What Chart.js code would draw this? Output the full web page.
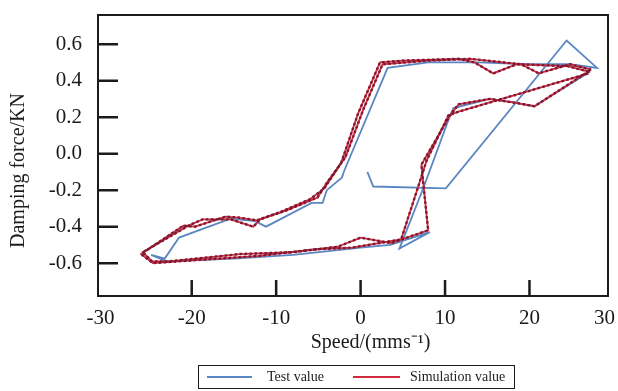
<!DOCTYPE html>
<html><head><meta charset="utf-8">
<script src="https://cdn.jsdelivr.net/npm/chart.js@4.4.1/dist/chart.umd.min.js"></script>
<style>
html,body{margin:0;padding:0;background:#fff;}
#wrap{position:relative;width:618px;height:391px;overflow:hidden;}
#legend{position:absolute;left:198px;top:365px;width:317px;height:24px;border:1.5px solid #1a1a1a;box-sizing:border-box;font-family:"Liberation Serif","Times New Roman",serif;font-size:14px;color:#222;}
.item{position:absolute;top:0;height:100%;display:flex;align-items:center;white-space:nowrap;}
.swatch{display:inline-block;height:2px;}
</style></head><body>
<div id="wrap"><canvas id="c" width="618" height="391"></canvas><div id="legend"></div></div>
<script>
// ---- data ----
const seriesLabels = ["Test value", "Simulation value"];

const testSpeed = [0.8, 1.5, 10.1, 24.4, 28.0, 24.8, 20, 14, 8, 3.2, -1.95, -2.2, -4.0, -4.5, -5.8, -11.2, -12.5, -15.4, -21.5, -23.2, -24.8, -23.0, -15, -8, -3, 0, 3.5, 8.2, 4.6, 7.5, 10.6, 11.0, 15.3, 18.2, 20.6, 27.2];
const testForce = [-0.10, -0.18, -0.19, 0.62, 0.47, 0.49, 0.49, 0.50, 0.50, 0.47, -0.095, -0.13, -0.20, -0.27, -0.27, -0.40, -0.37, -0.356, -0.46, -0.575, -0.555, -0.59, -0.575, -0.555, -0.53, -0.515, -0.50, -0.43, -0.52, -0.18, 0.21, 0.25, 0.30, 0.28, 0.26, 0.45];

const simCycle1Speed = [27.3, 24.8, 21.1, 19, 13, 8, 2.6, 0.3, -1.8, -4.0, -5.1, -8.7, -11.9, -12.7, -15.4, -18.7, -20.2, -25.8, -24.7, -22.6, -14.3, -8, -2.7, 0, 3.6, 8.0, 7.2, 10.6, 11.6, 15.3, 18.2, 20.6, 27.3];
const simCycle1Force = [0.46, 0.49, 0.44, 0.49, 0.52, 0.51, 0.49, 0.24, -0.02, -0.16, -0.24, -0.31, -0.36, -0.40, -0.36, -0.36, -0.39, -0.54, -0.59, -0.59, -0.55, -0.54, -0.51, -0.46, -0.49, -0.42, -0.06, 0.21, 0.27, 0.30, 0.28, 0.26, 0.46];

const simCycle2Speed = [27.0, 24.5, 18.5, 15.7, 13.5, 11.6, 5, 2.3, -0.3, -2.3, -4.3, -6.0, -9.5, -12.3, -14.5, -16.0, -19.6, -21.0, -26.0, -24.6, -20, -12, -5.5, -1, 4.8, 7.8, 10.4, 11.6, 27.0];
const simCycle2Force = [0.45, 0.48, 0.49, 0.44, 0.50, 0.52, 0.51, 0.50, 0.22, -0.05, -0.19, -0.25, -0.32, -0.365, -0.35, -0.345, -0.40, -0.395, -0.55, -0.60, -0.585, -0.56, -0.525, -0.515, -0.47, -0.04, 0.21, 0.23, 0.44];

const xTickValues = [-30, -20, -10, 0, 10, 20, 30];
const xInnerTicks = [-20, -10, 0, 10, 20];
const yTickValues = [-0.6, -0.4, -0.2, 0.0, 0.2, 0.4, 0.6];

const xTitle = "       Speed/(mms\u207B\u00B9)";
const yTitle = "Damping force/KN      ";

// ---- colours ----
const blue = "#5a86c1";
const red = "#d12a3d";
const darkRed = "#7a1a34";

function pts(xs, ys) { return xs.map((v, i) => ({ x: v, y: ys[i] })); }

Chart.defaults.font.family = '"Liberation Serif", "Times New Roman", serif';
Chart.defaults.color = "#1a1a1a";

const framePlugin = {
  id: "frame",
  afterDraw(chart) {
    const { ctx, chartArea: a, scales: { x, y } } = chart;
    ctx.save();
    ctx.strokeStyle = "#1b1b1b";
    ctx.lineWidth = 2;
    ctx.strokeRect(a.left, a.top, a.right - a.left, a.bottom - a.top);
    ctx.lineWidth = 2.5;
    ctx.beginPath();
    yTickValues.forEach(v => { const p = y.getPixelForValue(v); ctx.moveTo(a.left, p); ctx.lineTo(a.left + 20, p); });
    xInnerTicks.forEach(v => { const p = x.getPixelForValue(v); ctx.moveTo(p, a.bottom); ctx.lineTo(p, a.bottom - 16); });
    ctx.stroke();
    ctx.restore();
  }
};

const lineBase = { showLine: true, pointRadius: 0, fill: false, tension: 0 };

new Chart(document.getElementById("c"), {
  type: "scatter",
  data: {
    datasets: [
      Object.assign({ label: seriesLabels[0], data: pts(testSpeed, testForce), borderColor: blue, backgroundColor: blue, borderWidth: 1.8, order: 5 }, lineBase),
      Object.assign({ label: seriesLabels[1], data: pts(simCycle1Speed, simCycle1Force), borderColor: red, backgroundColor: red, borderWidth: 1.8, order: 3 }, lineBase),
      Object.assign({ label: seriesLabels[1] + " 2", data: pts(simCycle2Speed, simCycle2Force), borderColor: red, backgroundColor: red, borderWidth: 1.8, order: 4 }, lineBase),
      Object.assign({ label: seriesLabels[1] + " dots", data: pts(simCycle1Speed, simCycle1Force), borderColor: darkRed, borderWidth: 2.4, borderDash: [2.5, 2.5], order: 1 }, lineBase),
      Object.assign({ label: seriesLabels[1] + " dots 2", data: pts(simCycle2Speed, simCycle2Force), borderColor: darkRed, borderWidth: 2.4, borderDash: [2.5, 2.5], order: 2 }, lineBase)
    ]
  },
  options: {
    responsive: false,
    animation: false,
    devicePixelRatio: 1,
    layout: { padding: { left: 0, right: 10, top: 15, bottom: 0 } },
    plugins: { legend: { display: false }, tooltip: { enabled: false } },
    scales: {
      x: {
        type: "linear", min: -31.1, max: 29.3,
        afterBuildTicks: s => { s.ticks = xTickValues.map(v => ({ value: v })); },
        // the outermost labels sit on the frame edges, as in the reference
        afterTickToLabelConversion: s => {
          s.ticks.forEach(t => {
            if (t.value > s.max) t.value = s.max - 0.4;
            else if (t.value === xTickValues[0]) t.value = s.min + 0.3;
          });
        },
        afterFit: s => { s.height = 95; s.paddingLeft = 0; s.paddingRight = 0; },
        grid: { display: false, drawTicks: false },
        border: { display: false },
        ticks: { padding: 10, font: { size: 21 }, color: "#1a1a1a", maxRotation: 0, autoSkip: false, callback: v => String(v) },
        title: { display: true, text: xTitle, font: { size: 20 }, color: "#1a1a1a", padding: { top: 0, bottom: 36 } }
      },
      y: {
        type: "linear", min: -0.78, max: 0.76,
        afterBuildTicks: s => { s.ticks = yTickValues.map(v => ({ value: v })); },
        afterFit: s => { s.width = 98; s.paddingTop = 0; s.paddingBottom = 0; },
        grid: { display: false, drawTicks: false },
        border: { display: false },
        ticks: { padding: 16, font: { size: 21 }, color: "#1a1a1a", autoSkip: false, callback: v => Number(v).toFixed(1) },
        title: { display: true, text: yTitle, font: { size: 20 }, color: "#1a1a1a", padding: { top: 7, bottom: 0 } }
      }
    }
  },
  plugins: [framePlugin]
});

// ---- legend (HTML, built from the series labels) ----
const legend = document.getElementById("legend");
const legendItems = [
  { label: seriesLabels[0], color: blue, left: 8, swatch: 45, gap: 15 },
  { label: seriesLabels[1], color: red, left: 154, swatch: 47, gap: 10 }
];
legendItems.forEach(it => {
  const d = document.createElement("div");
  d.className = "item";
  d.style.left = it.left + "px";
  const sw = document.createElement("span");
  sw.className = "swatch";
  sw.style.width = it.swatch + "px";
  sw.style.background = it.color;
  sw.style.marginRight = it.gap + "px";
  const t = document.createElement("span");
  t.textContent = it.label;
  d.appendChild(sw); d.appendChild(t);
  legend.appendChild(d);
});
</script>
</body></html>
